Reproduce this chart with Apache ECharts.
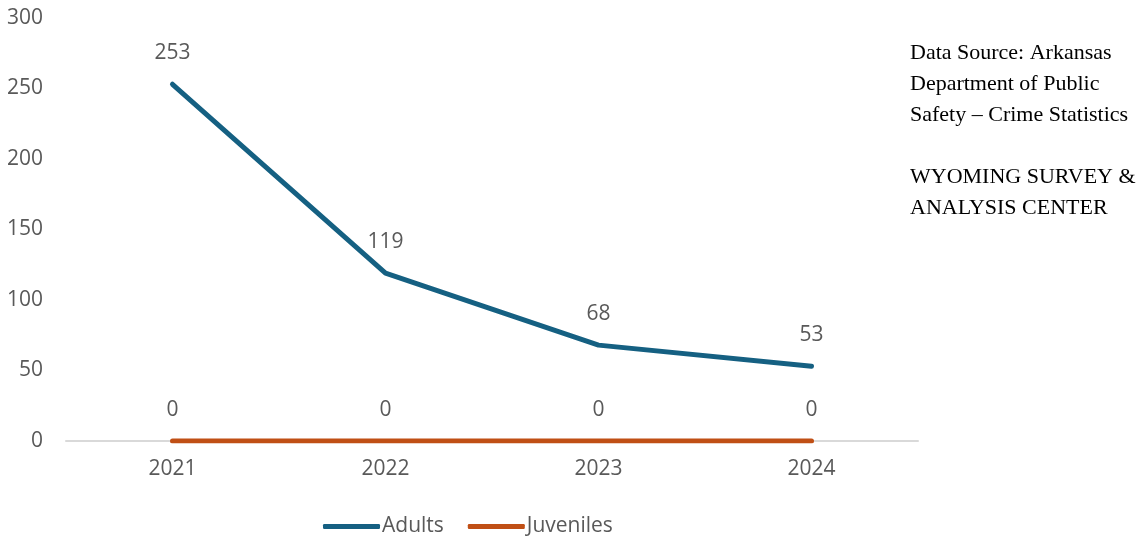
<!DOCTYPE html>
<html>
<head>
<meta charset="utf-8">
<script src="https://cdn.jsdelivr.net/npm/echarts@6/dist/echarts.min.js"></script>
<style>
  html, body { margin: 0; padding: 0; background: #ffffff; }
  #chart { width: 1141px; height: 539px; }
</style>
</head>
<body>
<div id="chart"></div>
<script>
// Arrest counts by year
const years = ['2021', '2022', '2023', '2024'];
const adults = [253, 119, 68, 53];
const juveniles = [0, 0, 0, 0];
const yTicks = { min: 0, max: 300, interval: 50 };
const sourceLines = [
  'Data Source: Arkansas',
  'Department of Public',
  'Safety \u2013 Crime Statistics',
  '',
  'WYOMING SURVEY &',
  'ANALYSIS CENTER'
];

const font = '"Open Sans", "Noto Sans", sans-serif';
const labelColor = '#595959';

const chart = echarts.init(document.getElementById('chart'), null, { renderer: 'canvas' });

function lineSeries(name, data, color) {
  return {
    name: name,
    type: 'line',
    data: data,
    symbol: 'circle',
    symbolSize: 1,
    showSymbol: true,
    lineStyle: { width: 5, color: color, cap: 'round', join: 'round' },
    itemStyle: { color: color },
    label: {
      show: true,
      position: 'top',
      distance: 20,
      color: labelColor,
      fontFamily: font,
      fontSize: 21
    },
    emphasis: { disabled: true }
  };
}

chart.setOption({
  animation: false,
  grid: { left: 66, right: 223, top: 18, bottom: 98, containLabel: false },
  xAxis: {
    type: 'category',
    data: years,
    boundaryGap: true,
    axisLine: { show: true, lineStyle: { color: '#D9D9D9', width: 2 } },
    axisTick: { show: false },
    axisLabel: { color: labelColor, fontFamily: font, fontSize: 21, margin: 18 }
  },
  yAxis: {
    type: 'value',
    min: yTicks.min,
    max: yTicks.max,
    interval: yTicks.interval,
    splitLine: { show: false },
    axisLine: { show: false },
    axisTick: { show: false },
    axisLabel: { color: labelColor, fontFamily: font, fontSize: 21, margin: 23 }
  },
  legend: {
    top: 511,
    left: 318,
    itemWidth: 57,
    itemHeight: 5,
    itemGap: 24,
    icon: 'roundRect',
    textStyle: { color: labelColor, fontFamily: font, fontSize: 21, padding: [0, 0, 0, -3] },
    data: ['Adults', 'Juveniles']
  },
  graphic: sourceLines.map((t, i) => ({
    type: 'text',
    left: 910,
    top: 42 + i * 31,
    style: {
      text: t,
      fill: '#000000',
      font: '22px "Liberation Serif", "DejaVu Serif", serif'
    }
  })),
  series: [
    lineSeries('Adults', adults, '#156082'),
    lineSeries('Juveniles', juveniles, '#C04F15')
  ]
});
</script>
</body>
</html>
